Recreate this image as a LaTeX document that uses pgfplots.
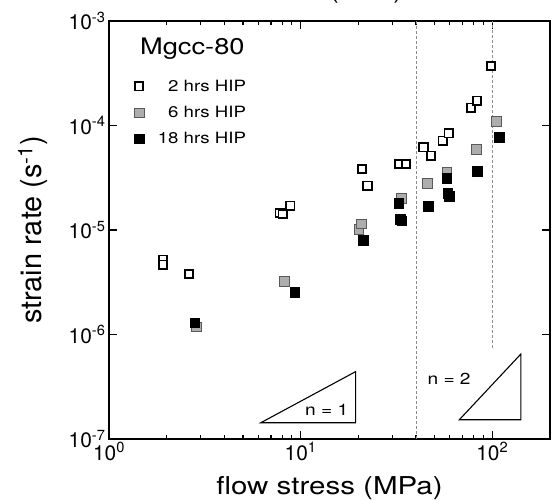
\documentclass[border=0pt]{standalone}
\usepackage{fontspec}
\setmainfont{TeX Gyre Heros}
\newfontfamily\widefont{TeX Gyre Heros}[FakeStretch=1.2]
\usepackage{pgfplots}
\pgfplotsset{compat=1.18}
\definecolor{mgray}{gray}{0.68}
\definecolor{mgrayedge}{gray}{0.35}
\definecolor{dashgray}{gray}{0.55}
\begin{document}
\begin{tikzpicture}
\begin{loglogaxis}[
  at={(0,0)}, anchor=south west,
  scale only axis, width=441bp, height=418bp,
  xmin=1, xmax=200, ymin=1e-7, ymax=1e-3,
  axis line style={line width=1.3bp},
  tick align=inside,
  major tick length=8bp, minor tick length=4.5bp,
  every tick/.style={black, line width=1.1bp},
  yminorticks=false,
  xtick={1,10,100},
  xticklabels={10\textsuperscript{0},10\textsuperscript{1},10\textsuperscript{2}},
  ytick={1e-7,1e-6,1e-5,1e-4,1e-3},
  yticklabels={10\textsuperscript{-7},10\textsuperscript{-6},10\textsuperscript{-5},10\textsuperscript{-4},10\textsuperscript{-3}},
  tick label style={font=\fontsize{21}{25}\selectfont},
  xlabel={flow stress (MPa)},
  ylabel={strain rate (s\textsuperscript{-1})},
  x label style={font=\widefont\fontsize{24.7}{29}\selectfont, at={(axis description cs:0.5,-0.1316)}, anchor=base},
  y label style={font=\fontsize{29}{34}\selectfont, at={(axis description cs:-0.1531,0.5)}, anchor=base},
  legend style={draw=none, fill=none, at={(axis description cs:0.0567,0.8620)}, anchor=north west,
    font=\widefont\fontsize{15.6}{18}\selectfont, row sep=11.5bp, column sep=13bp, inner sep=0pt,
    nodes={inner sep=1bp}},
  legend cell align=right,
]
\addplot[only marks, mark=square*, mark size=4.2bp, line width=1.8bp, draw=black, fill=white,
  mark options={solid}] coordinates {
(1.91,5.19e-6) (1.91,4.65e-6) (2.61,3.79e-6) (7.77,1.45e-5) (8.05,1.42e-5) (8.84,1.71e-5)
(20.9,3.85e-5) (22.3,2.65e-5) (32.8,4.30e-5) (35.5,4.30e-5) (43.7,6.20e-5) (47.9,5.15e-5)
(55.1,7.17e-5) (59.2,8.43e-5) (77.4,1.48e-4) (83.2,1.73e-4) (98.4,3.71e-4)
};
\addlegendentry{2 hrs HIP}
\addplot[only marks, mark=square*, mark size=4.8bp, line width=0.6bp, draw=mgrayedge, fill=mgray] coordinates {
(2.86,1.19e-6) (8.19,3.22e-6) (20.1,1.02e-5) (20.7,1.15e-5) (33.4,2.02e-5) (45.7,2.81e-5)
(57.8,3.55e-5) (82.3,5.93e-5) (105,1.10e-4)
};
\addlegendentry{6 hrs HIP}
\addplot[only marks, mark=square*, mark size=4.8bp, line width=0.6bp, draw=black, fill=black] coordinates {
(2.81,1.29e-6) (9.34,2.53e-6) (21.3,7.94e-6) (32.5,1.81e-5) (33.2,1.26e-5) (33.7,1.23e-5)
(46.4,1.68e-5) (57.8,3.13e-5) (58.5,2.25e-5) (59.7,2.09e-5) (83.2,3.66e-5) (108.7,7.73e-5)
};
\addlegendentry{18 hrs HIP}
\draw[dashgray, line width=0.6bp, dash pattern=on 3bp off 2bp] (axis cs:40,1e-7) -- (axis cs:40,1e-3);
\draw[dashgray, line width=0.6bp, dash pattern=on 3bp off 2bp] (axis cs:100,7.5e-7) -- (axis cs:100,1e-3);
\draw[line width=1.1bp, line join=miter] (axis cs:6.19,1.43e-7) -- (axis cs:19.34,1.43e-7) -- (axis cs:19.34,4.41e-7) -- cycle;
\draw[line width=1.1bp, line join=miter] (axis cs:67.3,1.53e-7) -- (axis cs:141,1.53e-7) -- (axis cs:141,6.51e-7) -- cycle;
\node[font=\widefont\fontsize{16}{19}\selectfont] at (axis cs:13.66,1.91e-7) {n = 1};
\node[font=\widefont\fontsize{16}{19}\selectfont] at (axis cs:59.5,3.80e-7) {n = 2};
\node[font=\widefont\fontsize{22.8}{27}\selectfont, anchor=base west, inner sep=0pt] at (axis cs:1.45,4.73e-4) {Mgcc-80};
\end{loglogaxis}
\node[font=\widefont\fontsize{22.5}{27}\selectfont, anchor=base, inner sep=0pt] at (257bp,440bp) {(MPa)};
\pgfresetboundingbox
\path[use as bounding box] (-109bp,-61bp) rectangle (446bp,439bp);
\end{tikzpicture}
\end{document}
